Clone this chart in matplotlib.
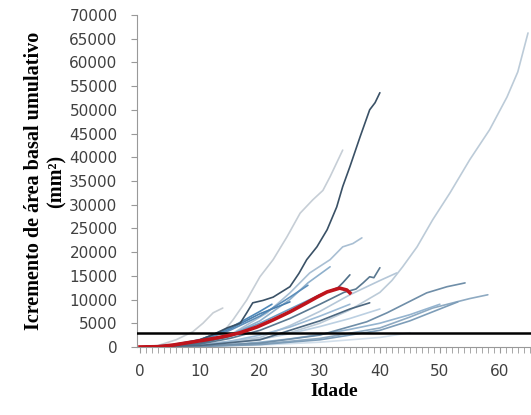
import matplotlib.pyplot as plt
from matplotlib.ticker import MultipleLocator

# individual trees: age (years) vs cumulative basal area increment (mm2)
long_age = [0, 5, 10, 15, 20, 25, 30, 35, 40, 42, 43.8, 46.2, 48.8, 51.7, 55, 58.3, 61.2, 63, 64.7]
long_val = [0, 100, 400, 900, 1700, 3000, 5000, 7800, 11500, 14000, 16900, 21100, 26800, 32500, 39500, 45800, 52700, 58000, 66200]

navy_age = [0, 5, 8, 10, 12, 14.5, 16.7, 17.8, 18.8, 20.5, 22.2, 25, 26.5, 27.8, 29.5, 31.2, 32.8, 33.8, 35, 36.7, 38.3, 39.2, 40]
navy_val = [0, 200, 800, 1500, 2500, 4000, 5000, 7200, 9300, 9800, 10500, 12700, 15500, 18400, 21100, 24700, 29500, 33800, 38000, 44300, 50000, 51500, 53600]

tall_age = [0, 4, 8, 11, 13.8, 15.5, 17.8, 20, 22.2, 24.5, 26.7, 28.8, 30.5, 31.7, 33.8]
tall_val = [0, 200, 900, 2000, 3000, 5700, 9900, 14800, 18400, 23200, 28200, 31000, 33000, 35900, 41500]

mid23_age = [0, 5, 10, 15, 18.3, 21.2, 25, 28.3, 31.7, 33.8, 35.5, 37]
mid23_val = [0, 150, 700, 2500, 5000, 7200, 11400, 15600, 18400, 21100, 21800, 23000]

short_age = [0, 3, 6, 8.8, 10.5, 12.2, 13.8]
short_val = [0, 300, 1500, 3200, 5000, 7200, 8200]

dark40_age = [0, 5, 10, 15, 20, 25, 30, 34, 36, 37.2, 38.3, 39, 40]
dark40_val = [0, 100, 600, 1800, 3500, 6000, 9000, 11500, 12200, 13500, 14800, 14600, 16700]

d34_age = [0, 5, 10, 15, 20, 25, 30, 33, 33.8, 35]
d34_val = [0, 150, 800, 2200, 4500, 7500, 11000, 12500, 13500, 15200]

r54_age = [0, 10, 20, 30, 37.8, 41.2, 44.5, 47.8, 51.2, 54.2]
r54_val = [0, 200, 800, 2500, 5300, 7200, 9300, 11400, 12700, 13500]

r58_age = [0, 10, 20, 30, 40, 45, 48.8, 52.8, 55, 58]
r58_val = [0, 150, 600, 1800, 4000, 6300, 8200, 9500, 10200, 11000]

r53_age = [0, 10, 20, 30, 40, 45, 50, 53]
r53_val = [0, 100, 500, 1500, 3500, 5500, 8000, 9500]

dark38_age = [0, 10, 20, 25, 30, 35, 38.3]
dark38_val = [0, 300, 1500, 3500, 5500, 8000, 9300]

l43_age = [0, 10, 20, 25, 30, 35, 40, 42.8]
l43_val = [0, 400, 2000, 4500, 7500, 11000, 14000, 15600]

b31_age = [0, 8, 15, 20, 25, 28, 31.7]
b31_val = [0, 500, 2500, 5500, 10000, 13500, 16900]

a_age = [0, 5, 10, 15, 20, 25, 28]
a_val = [0, 300, 1200, 3500, 6500, 10500, 13000]
b_age = [0, 5, 10, 15, 20, 25, 30]
b_val = [0, 200, 900, 2500, 5000, 8000, 11000]
c_age = [0, 5, 10, 15, 20, 25]
c_val = [0, 400, 1500, 3800, 7000, 9500]
d_age = [0, 5, 10, 15, 20, 25, 30, 35]
d_val = [0, 100, 400, 1200, 2500, 4200, 6500, 9000]
e_age = [0, 5, 10, 15, 20, 25, 30, 35, 40]
e_val = [0, 100, 300, 800, 1600, 2800, 4300, 6000, 8000]
f_age = [0, 5, 10, 15, 20, 22]
f_val = [0, 300, 1500, 4000, 7500, 9000]
g_age = [0, 5, 10, 15, 20, 25, 30, 35, 40, 45, 50]
g_val = [0, 50, 200, 500, 1000, 1700, 2600, 3700, 5000, 6800, 9000]
h_age = [0, 10, 20, 30, 40, 45]
h_val = [0, 100, 400, 1000, 2000, 3000]

# mean curve
mean_age = [0, 3, 5.5, 8, 11, 14, 16.7, 19.5, 22.2, 25, 27.8, 29.5, 31.2, 33.3, 34.5, 35]
mean_val = [0, 50, 400, 900, 1500, 2200, 3000, 4200, 5700, 7400, 9300, 10500, 11600, 12400, 12000, 11400]

limit = 3000

series = [
    (h_age, h_val, '#d2dfeb'),
    (e_age, e_val, '#bcd0e2'),
    (long_age, long_val, '#bccbd8'),
    (tall_age, tall_val, '#c6ced6'),
    (short_age, short_val, '#c8ced4'),
    (l43_age, l43_val, '#b5c7d8'),
    (mid23_age, mid23_val, '#a9bfd3'),
    (d_age, d_val, '#9dbbd6'),
    (r58_age, r58_val, '#8eaac2'),
    (g_age, g_val, '#95b4cf'),
    (b31_age, b31_val, '#8fb0cc'),
    (r53_age, r53_val, '#7d9db8'),
    (b_age, b_val, '#6d9cc4'),
    (a_age, a_val, '#5d8fbb'),
    (c_age, c_val, '#4a7fae'),
    (f_age, f_val, '#4f88b8'),
    (r54_age, r54_val, '#6f8ea8'),
    (dark40_age, dark40_val, '#5a7890'),
    (d34_age, d34_val, '#4f6f88'),
    (dark38_age, dark38_val, '#4d6880'),
    (navy_age, navy_val, '#3a5166'),
]

fig = plt.figure(figsize=(5.31, 4.15), dpi=100)
ax = fig.add_axes([0.258, 0.164, 0.742, 0.8])

for xs, ys, col in series:
    ax.plot(xs, ys, color=col, lw=1.2, solid_capstyle='round')

ax.axhline(limit, color='black', lw=1.8, zorder=5)
ax.plot(mean_age, mean_val, color='#c0141c', lw=2.6, zorder=6)

ax.set_xlim(-0.5, 65.2)
ax.set_ylim(0, 70000)
ax.xaxis.set_major_locator(MultipleLocator(10))
ax.xaxis.set_minor_locator(MultipleLocator(1))
ax.yaxis.set_major_locator(MultipleLocator(5000))

for s in ['top', 'right']:
    ax.spines[s].set_visible(False)
for s in ['left', 'bottom']:
    ax.spines[s].set_color('#999999')
ax.tick_params(axis='both', colors='#999999', labelcolor='#404040', labelsize=11, length=4)
ax.tick_params(axis='x', which='minor', colors='#999999', length=4)
ax.tick_params(axis='x', pad=8)
ax.tick_params(axis='y', pad=10)

ax.set_xlabel('Idade', family='Liberation Serif', fontweight='bold', fontsize=14, labelpad=3)
ax.set_ylabel('Icremento de área basal umulativo\n(mm²)', family='Liberation Serif',
              fontweight='bold', fontsize=14.5, linespacing=1.2, labelpad=2)

fig.savefig('out.png', dpi=100)
